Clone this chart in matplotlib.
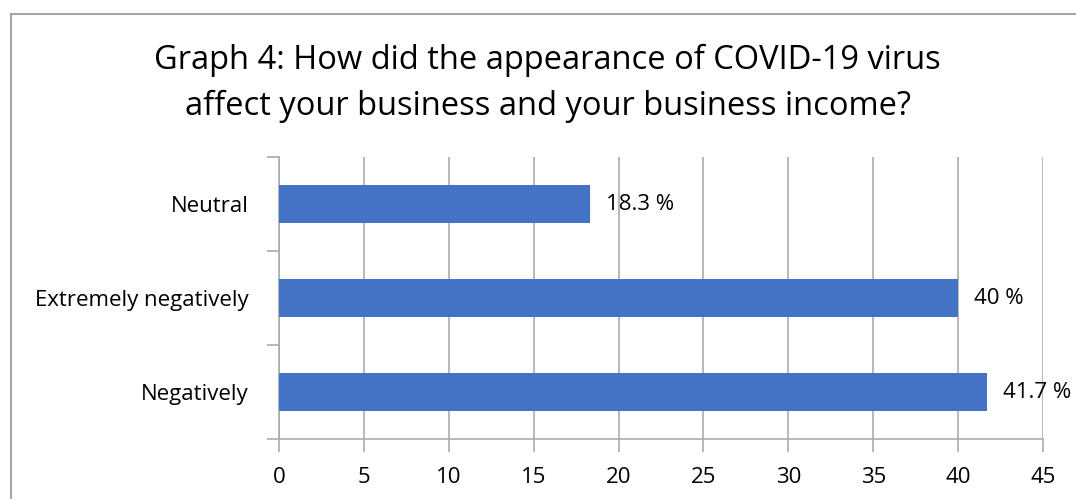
import matplotlib.pyplot as plt
from matplotlib.lines import Line2D

categories = ["Negatively", "Extremely negatively", "Neutral"]
values = [41.7, 40, 18.3]
value_labels = ["41.7 %", "40 %", "18.3 %"]
x_ticks = [0, 5, 10, 15, 20, 25, 30, 35, 40, 45]

plt.rcParams['font.family'] = ['Open Sans', 'DejaVu Sans']

fig = plt.figure(figsize=(10.76, 4.99), dpi=100)
ax = fig.add_axes([0.2593, 0.1202, 0.71, 0.5651])

grid_col = '#ABABAB'
fs = 16
pos = range(len(categories))
ax.barh(pos, values, height=0.4, color='#4472C4', zorder=3)

for y, v, lab in zip(pos, values, value_labels):
    ax.text(v + 0.95, y, lab, va='center', ha='left', fontsize=fs, zorder=4)

ax.set_xlim(0, 45)
ax.set_ylim(-0.5, 2.5)
ax.set_xticks(x_ticks)
ax.set_xticklabels([str(t) for t in x_ticks], fontsize=fs)
ax.set_yticks(list(pos))
ax.set_yticklabels(categories, fontsize=fs)
ax.set_yticks([-0.5, 0.5, 1.5, 2.5], minor=True)

ax.xaxis.grid(True, color=grid_col, linewidth=1.2, zorder=0)
ax.tick_params(axis='y', which='major', length=0, pad=22)
ax.tick_params(axis='y', which='minor', length=9, color=grid_col, width=1.2)
ax.tick_params(axis='x', which='major', length=9, color=grid_col, width=1.2, pad=11)

for side in ['top', 'right']:
    ax.spines[side].set_visible(False)
for side in ['left', 'bottom']:
    ax.spines[side].set_color(grid_col)
    ax.spines[side].set_linewidth(1.2)

fig.text(0.509, 1 - 83 / 499,
         "Graph 4: How did the appearance of COVID-19 virus\naffect your business and your business income?",
         ha='center', va='center', fontsize=23.5, linespacing=1.5)

# chart area frame
fig.add_artist(Line2D([10.5 / 1076, 1.0], [1 - 13.5 / 499] * 2, color='#A6A6A6', lw=1.5))
fig.add_artist(Line2D([10.5 / 1076] * 2, [0.0, 1 - 13.5 / 499], color='#A6A6A6', lw=1.5))

fig.savefig('out.png', dpi=100, facecolor='white')
